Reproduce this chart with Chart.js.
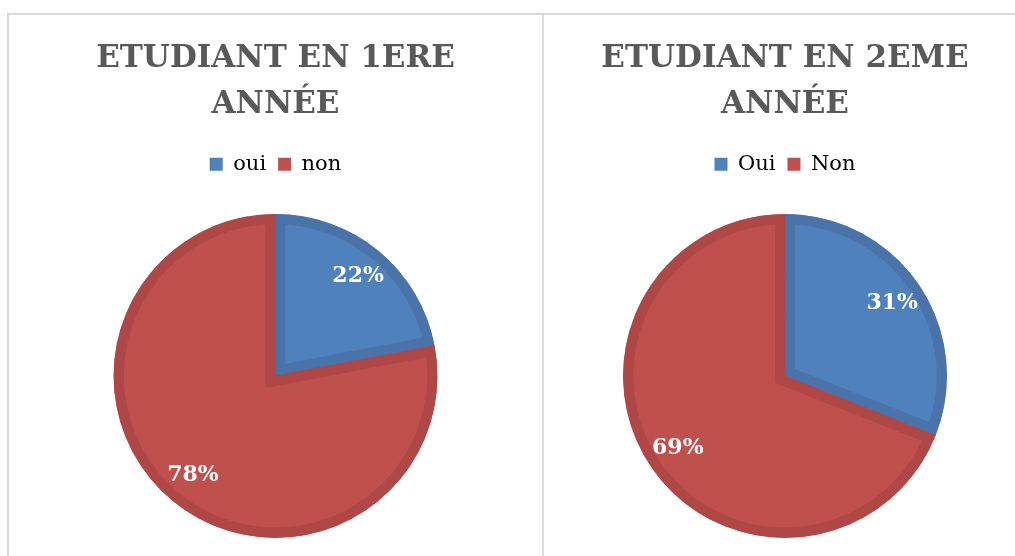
<!DOCTYPE html>
<html>
<head>
<meta charset="utf-8">
<script src="https://cdn.jsdelivr.net/npm/chart.js@4"></script>
<style>
  body { margin: 0; width: 1015px; height: 556px; overflow: hidden; background: #fff; position: relative; }
  #frame { position: absolute; left: 7px; top: 13px; width: 1100px; height: 700px; border-top: 2px solid #d9d9d9; border-left: 2px solid #d9d9d9; }
  #divider { position: absolute; left: 542px; top: 13px; width: 2px; height: 600px; background: #d9d9d9; }
  .box { position: absolute; top: 16px; }
</style>
</head>
<body>
<div id="frame"></div>
<div id="divider"></div>
<div class="box" style="left:10px"><canvas id="chart1" width="531" height="560"></canvas></div>
<div class="box" style="left:547px"><canvas id="chart2" width="476" height="560"></canvas></div>
<script>
const title1 = ["ETUDIANT EN 1ERE", "ANNÉE"];
const title2 = ["ETUDIANT EN 2EME", "ANNÉE"];
const labels1 = ["oui", "non"];
const labels2 = ["Oui", "Non"];
const values1 = [22, 78];
const values2 = [31, 69];

const fills = ["#4F81BD", "#C0504D"];
const borders = ["#4A74A9", "#AE4745"];

// percentage labels drawn inside each slice
const pctLabels = {
  id: "pctLabels",
  afterDatasetsDraw(chart) {
    const ctx = chart.ctx;
    const meta = chart.getDatasetMeta(0);
    const data = chart.data.datasets[0].data;
    const total = data.reduce((a, b) => a + b, 0);
    ctx.save();
    ctx.fillStyle = "#ffffff";
    ctx.font = "bold 22px 'DejaVu Serif'";
    ctx.textAlign = "center";
    ctx.textBaseline = "middle";
    meta.data.forEach((arc, i) => {
      const mid = (arc.startAngle + arc.endAngle) / 2;
      const r = arc.outerRadius * 0.8;
      const x = arc.x + Math.cos(mid) * r;
      const y = arc.y + Math.sin(mid) * r;
      ctx.fillText(Math.round(data[i] / total * 100) + "%", x, y);
    });
    ctx.restore();
  }
};

function makePie(id, title, labels, values) {
  return new Chart(document.getElementById(id), {
    type: "pie",
    data: {
      labels: labels,
      datasets: [{
        data: values,
        backgroundColor: fills,
        borderColor: borders,
        borderWidth: 10,
        borderAlign: "inner",
        borderJoinStyle: "miter",
        hoverOffset: 0,
      }],
    },
    options: {
      responsive: false,
      devicePixelRatio: 1,
      animation: false,
      radius: 162,
      layout: { padding: { bottom: 9 } },
      plugins: {
        title: {
          display: true,
          text: title,
          color: "#595959",
          font: { family: "'DejaVu Serif'", size: 31, weight: "bold", lineHeight: 1.48 },
          padding: { top: 20, bottom: 14 },
        },
        legend: {
          display: true,
          position: "top",
          labels: {
            color: "#595959",
            font: { family: "'DejaVu Serif'", size: 21 },
            boxWidth: 13,
            boxHeight: 13,
            padding: 12,
            generateLabels(chart) {
              return chart.data.labels.map((l, i) => ({
                text: l,
                fillStyle: fills[i],
                strokeStyle: fills[i],
                lineWidth: 0,
                index: i,
              }));
            },
          },
        },
        tooltip: { enabled: false },
      },
    },
    plugins: [pctLabels],
  });
}

makePie("chart1", title1, labels1, values1);
makePie("chart2", title2, labels2, values2);
</script>
</body>
</html>
